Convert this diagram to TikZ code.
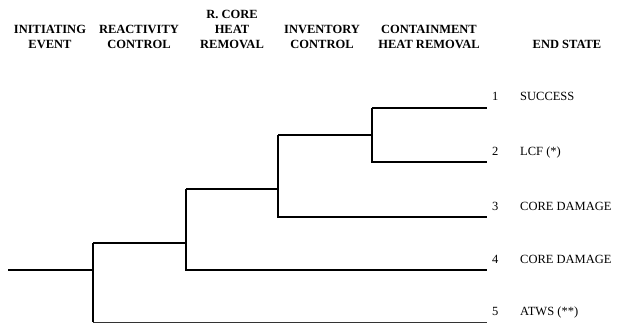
\documentclass[tikz,border=0pt]{standalone}
\usepackage{fontspec}
\setmainfont{Liberation Serif}
\usetikzlibrary{positioning}

\begin{document}
\begin{tikzpicture}[
    x=1pt, y=-1pt,
    header/.style={font=\fontsize{12.5}{15}\selectfont\bfseries, align=center, anchor=south, inner sep=0pt},
    seq/.style={line width=2pt, black},
    seq_thin/.style={line width=1pt, black!80},
    endnum/.style={font=\fontsize{12.5}{14}\selectfont, anchor=base west, inner sep=0pt},
    endlabel/.style={font=\fontsize{12.5}{14}\selectfont, anchor=base west, inner sep=0pt}
]
\useasboundingbox (0,0) rectangle (617,323);

% Column headers
\node[header] (hIE) at (50,49) {INITIATING\\EVENT};
\node[header] (hRC) at (139,49) {REACTIVITY\\CONTROL};
\node[header] (hHR) at (232,49) {R. CORE\\HEAT\\REMOVAL};
\node[header] (hIC) at (322,49) {INVENTORY\\CONTROL};
\node[header] (hCH) at (429,49) {CONTAINMENT\\HEAT REMOVAL};
\node[header] (hES) at (567,49) {END STATE};

% Branch points
\coordinate (IE) at (8,270);
\coordinate (RC) at (93,270);
\coordinate (HR) at (186,243);
\coordinate (IC) at (278,189);
\coordinate (CH) at (372,135);

% Sequence ends
\coordinate (E1) at (487,108);
\coordinate (E2) at (487,162);
\coordinate (E3) at (487,217);
\coordinate (E4) at (487,270);
\coordinate (E5) at (487,322);

% Event tree
\draw[seq] (IE) -- (RC);
\draw[seq] (RC|-HR) -- (RC|-E5);
\draw[seq] (RC|-HR) -- (HR);
\draw[seq_thin] (RC|-E5) -- (E5);
\draw[seq] (HR|-IC) -- (HR|-E4) -- (E4);
\draw[seq] (HR|-IC) -- (IC);
\draw[seq] (IC|-CH) -- (IC|-E3) -- (E3);
\draw[seq] (IC|-CH) -- (CH);
\draw[seq] (CH|-E1) -- (CH|-E2) -- (E2);
\draw[seq] (CH|-E1) -- (E1);

% End states
\foreach \i/\txt in {1/SUCCESS, 2/LCF (*), 3/CORE DAMAGE, 4/CORE DAMAGE, 5/ATWS (**)} {
    \node[endnum] (n\i) at ([xshift=5pt, yshift=7pt]E\i) {\i};
    \node[endlabel] (s\i) at ([xshift=33pt, yshift=7pt]E\i) {\txt};
}

\end{tikzpicture}
\end{document}
